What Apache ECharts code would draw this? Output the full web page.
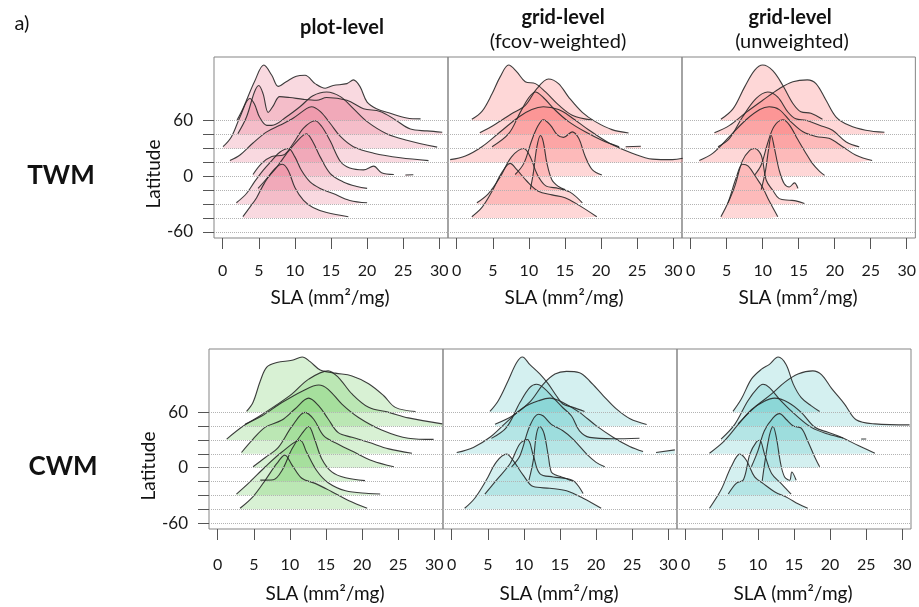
<!DOCTYPE html>
<html>
<head>
<meta charset="utf-8">
<script src="https://cdn.jsdelivr.net/npm/echarts@6/dist/echarts.min.js"></script>
<style>html,body{margin:0;padding:0;background:#fff}#c{width:919px;height:607px}</style>
</head>
<body>
<div id="c"></div>
<script>
// ---------- data ----------
// baselines of the ridges (latitude, degrees), from north to south
const latitudes = [60, 45, 30, 15, 0, -15, -30, -45];
// dotted reference lines / y ticks
const gridLines = [60, 45, 30, 15, 0, -15, -30, -45, -60];
const yTickLabels = [-60, 0, 60];
const xTicks = [0, 5, 10, 15, 20, 25, 30];
const panelTitles = ['plot-level', 'grid-level', 'grid-level'];
const panelSubtitles = ['', '(fcov-weighted)', '(unweighted)'];
const rowLabels = ['TWM', 'CWM'];
const xTitle = 'SLA (mm\u00B2/mg)';
const yTitle = 'Latitude';

// each curve: [SLA, ridge height in latitude units above its baseline]
const twmPlotLevel = [
  [[2.0,0.7],[2.8,13],[3.3,22],[4.4,42],[5.7,60],[6.8,49],[7.7,37],[8.8,42],[10.2,48],[11.4,49],[12.8,40],[14.2,35],[15.3,38],[17.2,40],[18.1,44],[19.0,37],[20.0,20],[21.3,13],[23.2,8],[25.5,3],[27.4,2]],
  [[2.1,1],[3.3,19],[4.4,46],[5.0,53],[5.6,44],[6.3,24],[7.0,31],[7.9,41],[9.3,40],[11.2,38],[13.0,37],[14.4,40],[17.2,37],[19.5,28],[21.8,25],[23.7,17],[26.0,6],[28.3,4],[30.4,2.5]],
  [[0.05,2],[1.2,12.5],[2.4,34],[3.75,54],[4.4,48],[5.1,34],[6.1,25],[6.8,25],[8.8,34],[10.7,45],[12.5,57],[14.4,61],[16.3,56],[18.1,43],[20.0,29],[22.7,16],[25.5,9],[29.7,1.5]],
  [[1.0,2],[2.4,8],[4.2,21],[6.1,33],[7.9,40],[9.8,48],[11.6,58],[12.3,60],[13.5,55],[14.9,42],[16.3,28],[18.1,17],[20.9,10],[24.6,5],[28.5,2]],
  [[4.2,2],[5.4,14],[6.8,21.5],[8.4,23],[9.8,36],[11.2,52],[12.8,60],[13.7,54],[14.9,38],[16.3,16],[17.6,9],[19.5,7],[20.9,11],[22.0,4],[23.7,2],[24.5,null],[25.3,1.5],[26.4,1.8]],
  [[4.9,2],[6.1,12.5],[7.5,25],[8.8,39],[10.2,52],[11.6,61],[12.5,52],[13.5,36],[14.9,18],[16.7,9],[18.6,4],[20.0,2]],
  [[1.9,1.5],[3.3,11.5],[4.4,24],[5.6,36.5],[6.8,47],[7.9,56],[9.1,60],[10.0,51],[10.9,36.5],[12.1,24],[13.5,17],[15.3,11.5],[17.6,4],[20.0,1.5]],
  [[2.8,1.5],[3.75,11.5],[4.7,22],[5.8,38],[7.2,53],[8.3,58],[9.1,51],[10.0,33],[11.2,19],[12.5,11.5],[14.4,6],[17.4,1.5]]
];
const twmGridWeighted = [
  [[2.1,1.5],[3.5,10],[4.9,29],[6.0,47],[7.2,60],[8.3,53],[9.5,42],[10.9,40],[12.3,31],[14.1,17],[16.0,6],[18.8,0.7]],
  [[3.2,2],[5.3,11],[7.6,22.5],[9.5,31.5],[11.1,49.5],[12.7,60],[14.1,55],[15.5,40.5],[17.4,24],[19.2,14],[21.5,5.4],[23.8,1.8]],
  [[4.9,2],[7.2,16],[8.8,39],[10.0,55],[10.9,61],[12.0,55],[13.7,41],[15.5,29],[17.8,18],[20.1,9],[22.5,2],[23.0,null],[23.4,2],[25.5,2.5]],
  [[-0.9,3],[1.2,7],[3.5,17],[5.8,31.5],[8.6,49],[10.4,57],[12.0,60],[14.1,57],[16.0,48],[18.3,35],[21.1,21],[24.3,10],[27.1,3.6],[29.9,3],[31.3,4.6]],
  [[8.1,2],[9.3,14],[10.4,39],[11.3,55],[12.0,61],[13.0,55],[13.9,45],[14.8,42],[16.0,48],[16.9,41],[17.8,21.5],[18.8,7],[20.1,1.5]],
  [[10.2,1],[10.6,18],[11.1,46.5],[11.6,59],[12.0,52],[12.5,29],[13.2,11],[14.1,4],[15.0,0.7]],
  [[2.8,1.5],[4.4,11.5],[6.0,29],[7.6,51],[9.3,60],[10.2,51],[11.1,33],[12.3,20],[14.1,17],[15.7,13],[17.4,1.5]],
  [[2.1,1.5],[3.5,11.5],[4.9,29],[6.25,49],[7.4,59],[8.3,52.5],[9.7,40],[11.3,29],[13.2,25],[15.0,22],[16.9,14],[19.4,1.5]]
];
const twmGridUnweighted = [
  [[4.2,1.5],[5.9,13],[7.5,36.5],[8.9,54.5],[10.0,60],[11.4,54],[12.8,38],[14.2,18.6],[15.3,9.7],[16.7,8],[18.3,1.5]],
  [[3.3,2],[5.4,10],[7.7,24],[10.0,37],[12.3,49.5],[14.2,57],[16.2,59],[17.4,55],[18.8,37],[20.2,19],[22.0,10],[24.3,4.7],[26.9,2.5]],
  [[3.8,2],[5.4,11],[7.2,34],[9.1,54],[10.7,61],[12.1,55.5],[13.5,39.4],[14.6,32],[16.0,30.5],[17.9,25],[19.7,19.7],[21.6,7],[23.4,1.8]],
  [[1.2,2],[3.1,10],[5.4,28],[7.7,46],[9.6,57],[10.9,60],[12.3,57],[13.9,44],[15.6,33],[17.4,28],[19.2,26],[21.1,17],[22.9,8],[25.2,2]],
  [[8.9,1.5],[9.8,12.5],[10.7,36],[11.6,54],[12.8,61],[13.7,55.5],[14.9,39.4],[16.0,25],[16.9,14],[17.9,5.4],[18.6,1]],
  [[9.8,0.7],[10.4,21.5],[10.8,43],[11.2,59],[11.6,46.6],[12.3,21.5],[13.0,7],[13.7,3.6],[14.4,8],[14.9,2]],
  [[5.2,1.5],[6.1,18.6],[7.2,47],[8.2,58],[8.9,60],[9.8,52.7],[10.5,25.8],[11.4,15],[12.3,6],[13.7,4.3],[14.6,3.6],[15.8,0.7]],
  [[4.2,1.5],[5.2,17],[6.3,43],[7.2,58],[8.0,56],[9.1,43.7],[10.0,33],[10.9,18.6],[12.1,1.5]]
];
const cwmPlotLevel = [
  [[4.0,1],[4.9,11],[5.9,34],[6.8,49],[8.2,54],[10.3,56.5],[11.7,60],[12.8,55],[14.2,46],[16.3,42.5],[18.6,39.5],[20.9,31],[23.0,18],[24.6,5.4],[27.4,1]],
  [[3.8,2],[5.6,10],[7.95,22],[10.3,35],[12.6,51],[15.3,60],[16.7,53],[18.6,35],[20.9,20.5],[23.7,15],[26.4,9],[31.1,2.5]],
  [[1.25,1],[3.8,16.5],[6.1,26],[8.9,40.6],[11.7,53],[14.0,59.7],[15.3,55],[17.2,39],[19.5,24.5],[22.7,11],[26.4,2],[29.9,0.7]],
  [[3.3,1.5],[4.9,16],[6.6,29],[8.9,36.7],[10.7,48.6],[12.6,60.4],[14.0,52],[15.3,37.8],[16.7,23],[18.6,18],[20.9,12.6],[23.7,5.4],[26.9,0.7]],
  [[4.9,1],[6.6,11],[8.4,22],[10.3,45],[12.1,60],[13.3,52.5],[14.7,34.5],[16.7,25.5],[18.6,18],[21.4,7.5],[24.4,1]],
  [[5.9,1.5],[7.7,2],[8.9,12],[10.3,35.6],[11.65,51.8],[12.6,59.7],[13.4,46.4],[14.4,24.8],[15.8,10.4],[17.7,4],[20.4,1]],
  [[2.6,1.4],[4.25,13],[6.6,31],[8.9,47],[11.4,59.7],[12.3,47],[13.7,27],[15.3,13.7],[17.7,5],[20.9,2],[22.5,1.4]],
  [[3.1,1],[4.9,13.7],[6.6,31.6],[8.2,49.6],[9.3,58.6],[10.3,47.8],[11.65,33.5],[13.5,28],[15.8,19],[18.1,9.4],[20.7,1]]
];
const cwmGridWeighted = [
  [[5.3,1],[6.45,12.6],[7.8,34],[9.0,54],[9.8,60],[10.8,52],[12.2,41.7],[13.4,30.6],[14.5,18],[15.4,9],[16.8,5.4],[18.4,1]],
  [[6.0,2],[8.5,11.5],[10.8,26],[12.7,45.7],[14.3,56.5],[15.9,59.4],[17.7,58],[19.1,49],[21.0,33],[22.8,18.7],[24.7,8],[27.0,1.8]],
  [[5.5,1.8],[7.6,13.7],[9.45,40.6],[10.8,56.8],[11.75,60.4],[12.7,56.8],[14.05,46],[15.4,35],[16.6,26],[17.7,10],[19.1,2.9],[22.35,1.4],[26.0,2]],
  [[0.7,1.4],[3.0,7],[5.3,18],[7.6,34.5],[9.9,50],[12.2,58],[13.6,60.4],[15.4,55.8],[17.7,45],[20.0,30.6],[22.35,18],[24.65,8],[26.5,2.5],[27.4,null],[28.3,1.4],[30.9,4.3]],
  [[8.3,1],[9.45,13],[10.8,45],[12.0,58],[12.7,56],[13.8,47],[15.4,40],[16.8,31],[18.7,14.7],[20.0,5.8],[21.2,1]],
  [[10.7,1.4],[11.3,23],[11.75,51.8],[12.2,59.7],[12.8,51.8],[13.4,26.6],[13.8,10.4],[14.5,6.8],[15.2,5],[16.8,0.4]],
  [[4.6,1.4],[6.2,16.5],[8.1,34.5],[9.45,56],[10.5,60.4],[11.3,43.5],[12.2,23.7],[14.05,20],[15.9,18.3],[17.05,14.7],[18.2,2]],
  [[1.8,1],[3.2,11.9],[4.8,31.6],[6.2,51.4],[7.6,59.7],[8.5,53],[9.9,37],[11.3,24.5],[13.6,22.7],[15.9,20],[18.2,11.9],[20.7,1]]
];
const cwmGridUnweighted = [
  [[6.55,1],[7.7,14.4],[9.1,36],[10.5,46.8],[11.6,52],[12.8,60],[13.9,52],[14.9,30.6],[16.0,16],[17.4,7],[18.55,1]],
  [[7.25,2.5],[9.55,20.5],[11.9,35],[13.7,47.5],[15.55,56.5],[17.6,60],[18.8,56],[20.2,41],[22.0,24],[23.6,7],[26.2,2.5],[31.0,1.4]],
  [[4.9,1],[6.8,17],[8.6,42.4],[10.0,56.8],[10.7,60.4],[11.6,56.8],[13.2,42.4],[15.1,28],[17.4,13.7],[19.7,6.5],[21.8,2.2],[23.0,null],[24.3,1.1],[25.0,1.1]],
  [[3.3,0.7],[5.4,14.4],[7.25,31.6],[9.1,47.8],[10.9,57],[12.3,60.4],[14.2,55.8],[16.0,45],[17.9,28.8],[19.7,23.4],[21.55,18],[23.9,9],[26.2,0.7]],
  [[9.1,1],[10.0,18.3],[10.9,40],[12.1,54],[13.0,58.6],[13.9,52.5],[14.9,45.3],[16.0,42.8],[16.9,29],[17.9,11],[18.55,1]],
  [[10.6,0.7],[11.0,23],[11.6,50],[12.1,59.7],[12.55,48],[13.15,19.4],[13.7,5],[14.4,1.4],[14.7,10.4],[15.3,1.4]],
  [[5.9,1.4],[7.0,13],[8.0,17],[8.9,45],[9.8,58],[10.25,59.7],[10.9,45.3],[11.9,23.7],[13.2,13],[14.6,1.4]],
  [[3.3,1],[4.9,21],[6.3,46],[7.5,59.7],[8.4,53],[9.55,35],[10.7,28],[12.3,19],[14.2,12],[15.55,5.8],[16.9,1]]
];

// ---------- layout / style ----------
const panelData = [twmPlotLevel, twmGridWeighted, twmGridUnweighted, cwmPlotLevel, cwmGridWeighted, cwmGridUnweighted];
const fills = ['rgba(232,118,142,0.28)', 'rgba(250,110,110,0.28)', 'rgba(250,110,110,0.28)',
               'rgba(110,205,95,0.27)', 'rgba(95,200,200,0.27)', 'rgba(95,200,200,0.27)'];
const boxes = [
  [214, 57, 234, 181], [448, 57, 234, 181], [682, 57, 234, 181],
  [209, 349, 234, 180], [443, 349, 234, 180], [677, 349, 234, 180]
];
const FONT = 'Lato, "Open Sans", "Liberation Sans", sans-serif';
const Y_MIN = -66.47, Y_MAX = 128.7;

const grid = [], xAxis = [], yAxis = [], series = [];
boxes.forEach((b, i) => {
  const col = i % 3, row = Math.floor(i / 3);
  grid.push({left: b[0], top: b[1], width: b[2], height: b[3], show: true,
    borderColor: '#858585', borderWidth: 1, backgroundColor: 'transparent', containLabel: false});
  xAxis.push({type: 'value', gridIndex: i, min: -1.2, max: 31.2, position: 'bottom',
    axisLine: {show: false, onZero: false}, splitLine: {show: false},
    axisTick: {show: true, customValues: xTicks, length: 11, lineStyle: {color: '#555', width: 1}},
    axisLabel: {show: true, customValues: xTicks, fontSize: 16, color: '#1a1a1a', fontFamily: FONT,
      margin: row === 0 ? 25 : 28}});
  yAxis.push({type: 'value', gridIndex: i, min: Y_MIN, max: Y_MAX, position: 'left',
    axisLine: {show: false, onZero: false}, splitLine: {show: false},
    axisTick: {show: col === 0, customValues: gridLines, length: 11, lineStyle: {color: '#555', width: 1}},
    axisLabel: {show: col === 0, customValues: yTickLabels, fontSize: 17, color: '#1a1a1a', fontFamily: FONT, margin: 21}});
  series.push({type: 'line', xAxisIndex: i, yAxisIndex: i, data: [], silent: true, z: 1,
    markLine: {silent: true, symbol: 'none', animation: false, label: {show: false},
      lineStyle: {type: 'dotted', color: '#b3b3b3', width: 1},
      data: gridLines.map(v => ({yAxis: v}))}});
  panelData[i].forEach((curve, k) => {
    const lat = latitudes[k];
    series.push({type: 'line', xAxisIndex: i, yAxisIndex: i, silent: true, z: 2,
      data: curve.map(p => [p[0], p[1] === null ? null : lat + p[1]]),
      smooth: 0.35, symbol: 'none', connectNulls: false, animation: false,
      lineStyle: {color: 'rgba(40,40,40,0.9)', width: 1.1},
      areaStyle: {color: fills[i], origin: lat, opacity: 1}});
  });
});

const graphic = [];
function txt(x, y, text, size, weight, rot) {
  graphic.push({type: 'text', x: x, y: y, rotation: rot || 0, silent: true,
    style: {text: text, fontSize: size, fontWeight: weight || 'normal', fontFamily: FONT,
      fill: '#111', textAlign: 'center', textVerticalAlign: 'middle'}});
}
txt(22, 24, 'a)', 20);
txt(342, 28, panelTitles[0], 20, 'bold');
txt(563, 18, panelTitles[1], 20, 'bold');
txt(558, 42, panelSubtitles[1], 20);
txt(790, 18, panelTitles[2], 20, 'bold');
txt(792, 42, panelSubtitles[2], 20);
txt(61, 176, rowLabels[0], 26, 'bold');
txt(63, 467, rowLabels[1], 26, 'bold');
txt(154, 174, yTitle, 19, 'normal', Math.PI / 2);
txt(149, 466, yTitle, 19, 'normal', Math.PI / 2);
boxes.forEach((b, i) => {
  const row = Math.floor(i / 3);
  txt(b[0] + b[2] / 2 - 1, row === 0 ? 298 : 594, xTitle, 19);
});

const chart = echarts.init(document.getElementById('c'), null, {renderer: 'canvas'});
chart.setOption({animation: false, backgroundColor: '#fff', grid, xAxis, yAxis, series, graphic});
</script>
</body>
</html>
